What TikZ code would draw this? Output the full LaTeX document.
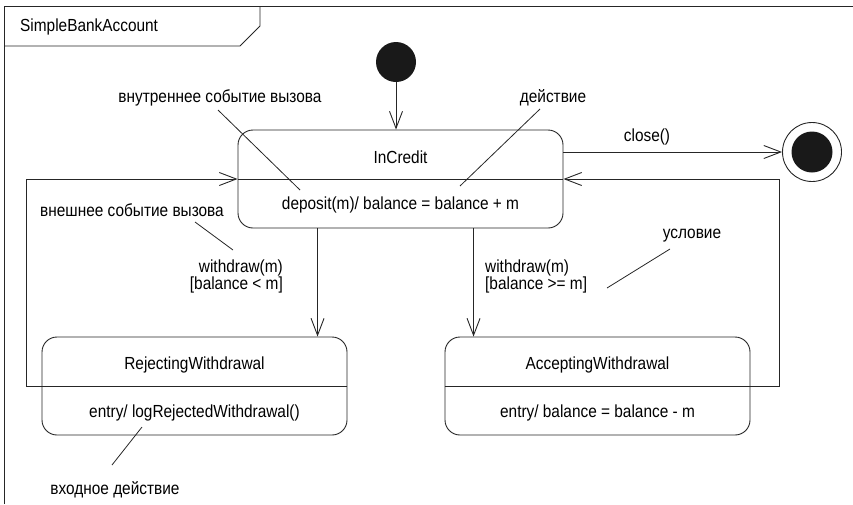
\documentclass[tikz,border=0pt]{standalone}
\usepackage{fontspec}
\setmainfont[FakeStretch=0.88]{Liberation Sans}
\usetikzlibrary{arrows.meta,calc}
\begin{document}
\begin{tikzpicture}[x=1pt,y=-1pt,
  every node/.style={font=\fontsize{17.5}{17}\selectfont, inner sep=0pt},
  ln/.style={line width=0.9pt, draw=black!85},
  arr/.style={ln, -{Straight Barb[length=17pt,width=13pt,line width=0.9pt]}},
  state/.style={draw=black!85, line width=0.9pt, rounded corners=15pt, minimum width=325pt, minimum height=98pt},
  note/.style={line width=0.8pt, draw=black!85}]
\useasboundingbox (0,0) rectangle (853,504);
% frame
\draw[ln] (4,504) -- (4,6) -- (853,6);
\draw[ln] (4,46) -- (240,46) -- (260,26) -- (260,6);
\node[anchor=west] (title) at (20,27) {SimpleBankAccount};
% states
\node[state] (ic) at (400.5,179) {};
\draw[ln] (ic.west) -- (ic.east);
\node (icn) at (400.5,157) {InCredit};
\node (ica) at (400.5,205) {deposit(m)/ balance = balance + m};
\node[state, minimum width=305pt] (rw) at (194.5,386) {};
\node (rwn) at (194.5,365) {RejectingWithdrawal};
\node (rwa) at (194.5,413) {entry/ logRejectedWithdrawal()};
\node[state, minimum width=305pt] (aw) at (597.5,386) {};
\node (awn) at (597.5,365) {AcceptingWithdrawal};
\node (awa) at (597.5,413) {entry/ balance = balance - m};
% initial & final
\node[circle, fill=black!90, minimum size=40pt] (init) at (396,62) {};
\node[circle, draw=black!85, line width=0.9pt, minimum size=59pt] (fin) at (812,152) {};
\node[circle, fill=black!90, minimum size=41pt] (finin) at (812,152) {};
% transitions
\draw[arr] (init.south) -- (init.south |- ic.north);
\draw[arr] (ic.east |- fin.west) -- (fin.west);
\node (close) at (647,137) {close()};
\coordinate (lx) at (26,386);
\coordinate (rx) at (779,386);
\draw[arr] (rw.east) -- (lx) |- (ic.west);
\draw[arr] (aw.west) -- (rx) |- (ic.east);
\coordinate (d1) at ($(ic.south west)+(80,0)$);
\coordinate (d2) at ($(ic.south west)+(236,0)$);
\draw[arr] (d1) -- (d1 |- rw.north);
\draw[arr] (d2) -- (d2 |- aw.north);
\node[anchor=east, align=right] (g1) at (283,276.5) {withdraw(m)\\{[balance < m]}};
\node[anchor=west, align=left] (g2) at (485,276.5) {withdraw(m)\\{[balance >= m]}};
% annotations
\node (n1) at (220,98) {внутреннее событие вызова};
\coordinate (n1e) at (300,190);
\draw[note] (218,110) -- (n1e);
\node (n2) at (553,98) {действие};
\coordinate (n2e) at (460,186);
\draw[note] (540,109) -- (n2e);
\node (n3) at (132,210) {внешнее событие вызова};
\coordinate (n3e) at (233,250);
\draw[note] (195,222) -- (n3e);
\node (n4) at (692,236) {условие};
\coordinate (n4e) at (607,288);
\draw[note] (670,249) -- (n4e);
\node (n5) at (115,490) {входное действие};
\coordinate (n5e) at (142,427);
\draw[note] (112,465) -- (n5e);
\end{tikzpicture}
\end{document}
